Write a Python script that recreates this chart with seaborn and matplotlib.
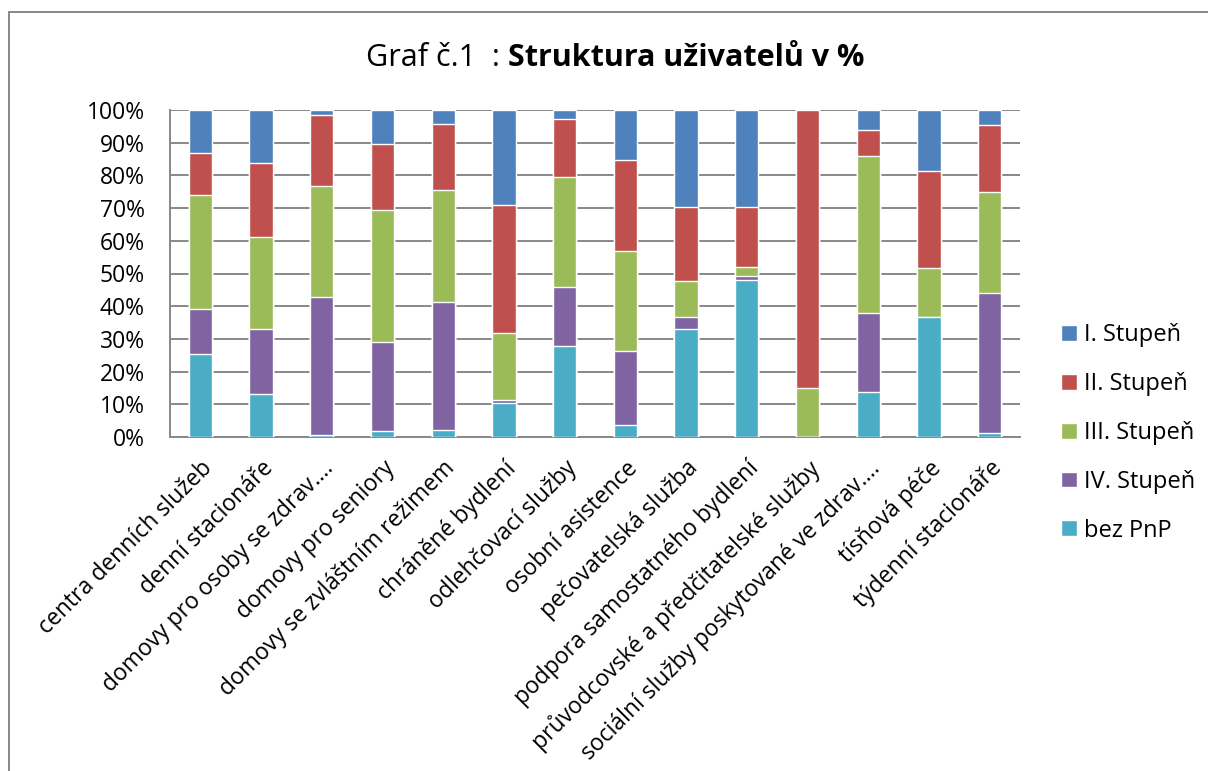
import matplotlib
matplotlib.use("Agg")
import matplotlib.pyplot as plt
import seaborn as sns
import numpy as np
import pandas as pd
from matplotlib.patches import Rectangle
from matplotlib.ticker import FixedLocator

categories = [
    "centra denních služeb",
    "denní stacionáře",
    "domovy pro osoby se zdrav.…",
    "domovy pro seniory",
    "domovy se zvláštním režimem",
    "chráněné bydlení",
    "odlehčovací služby",
    "osobní asistence",
    "pečovatelská služba",
    "podpora samostatného bydlení",
    "průvodcovské a předčitatelské služby",
    "sociální služby poskytované ve zdrav.…",
    "tísňová péče",
    "týdenní stacionáře",
]

bez_pnp   = [25.5, 13.0,  0.5,  1.9,  2.1, 10.4, 27.9,  3.6, 33.1, 47.9,  0.0, 13.9, 36.8,  1.2]
stupen_iv = [13.6, 20.1, 42.4, 27.0, 39.1,  0.9, 17.9, 22.6,  3.7,  1.3,  0.0, 24.0,  0.0, 42.8]
stupen_iii= [35.0, 28.0, 33.8, 40.5, 34.4, 20.4, 33.8, 30.6, 10.9,  2.8, 14.9, 48.0, 14.9, 30.9]
stupen_ii = [12.9, 22.6, 21.9, 20.3, 20.0, 39.3, 17.6, 27.8, 22.6, 18.3, 85.1,  8.1, 29.6, 20.5]
stupen_i  = [13.0, 16.3,  1.4, 10.3,  4.4, 29.0,  2.8, 15.4, 29.7, 29.7,  0.0,  6.0, 18.7,  4.6]

series_names = ["I. Stupeň", "II. Stupeň", "III. Stupeň", "IV. Stupeň", "bez PnP"]
colors = {"I. Stupeň": "#4F81BD", "II. Stupeň": "#C0504D", "III. Stupeň": "#9BBB59",
          "IV. Stupeň": "#8064A2", "bez PnP": "#4BACC6"}

sns.set_style("white")
plt.rcParams["font.family"] = ["Open Sans", "DejaVu Sans"]
plt.rcParams["text.color"] = "black"
plt.rcParams["xtick.color"] = "black"
plt.rcParams["ytick.color"] = "black"
plt.rcParams["xtick.labelcolor"] = "black"
plt.rcParams["ytick.labelcolor"] = "black"

fig = plt.figure(figsize=(12.08, 7.71), dpi=100)
ax = fig.add_axes([170/1208, 1 - 437/771, 850/1208, 327/771])

# stacking order bottom -> top
stack = [("bez PnP", bez_pnp), ("IV. Stupeň", stupen_iv), ("III. Stupeň", stupen_iii),
         ("II. Stupeň", stupen_ii), ("I. Stupeň", stupen_i)]
cum = np.zeros(len(categories))
cums = []
for name, vals in stack:
    cum = cum + np.array(vals)
    cums.append((name, cum.copy()))

# draw from top cumulative to bottom so lower layers overlay
for name, c in reversed(cums):
    df = pd.DataFrame({"cat": categories, "val": c})
    sns.barplot(data=df, x="cat", y="val", color=colors[name], width=0.385,
                saturation=1, ax=ax, label=name, zorder=3)

handles, labels = ax.get_legend_handles_labels()
hmap = dict(zip(labels, handles))
if ax.get_legend() is not None:
    ax.get_legend().remove()

ax.set_xlim(-0.5, len(categories) - 0.5)
ax.set_ylim(0, 100)
ax.set_yticks(np.arange(0, 101, 10))
ax.set_yticklabels([f"{v}%" for v in range(0, 101, 10)], fontsize=16.5)
ax.set_xlabel("")
ax.set_ylabel("")
ax.set_xticks(range(len(categories)))
ax.set_xticklabels(categories, rotation=45, ha="right", rotation_mode="anchor", fontsize=16.5)
ax.xaxis.set_minor_locator(FixedLocator(np.arange(-0.5, len(categories), 1.0)))
ax.tick_params(axis="x", which="major", length=0, pad=14)
ax.tick_params(axis="x", which="minor", length=7, width=1.3, color="#888888", direction="out")
ax.tick_params(axis="y", which="major", length=7, width=1.3, color="#888888", direction="out", pad=11)

ax.grid(axis="y", color="#888888", linewidth=1.4, zorder=0)
ax.set_axisbelow(True)
for s in ["top", "right"]:
    ax.spines[s].set_visible(False)
for s in ["left", "bottom"]:
    ax.spines[s].set_color("#888888")
    ax.spines[s].set_linewidth(1.4)

# legend
leg = fig.legend([hmap[n] for n in series_names], series_names,
                 loc="center left", bbox_to_anchor=(1040/1208, 1 - 433/771),
                 frameon=False, fontsize=17, handlelength=0.65, handleheight=0.65,
                 handletextpad=0.3, labelspacing=1.05)
for t in leg.get_texts():
    t.set_color("black")

# title
fig.text(508/1208, 1 - 58/771, "Graf č.1  : ", ha="right", va="center", fontsize=22)
fig.text(508/1208, 1 - 58/771, "Struktura uživatelů v %", ha="left", va="center",
         fontsize=22, fontweight="bold")

# outer frame
fig.patches.append(Rectangle((9/1208, -0.05), 1.2, 1 - 12/771 + 0.05,
                             transform=fig.transFigure, fill=False,
                             edgecolor="#888888", linewidth=1.4))

fig.savefig("out.png", dpi=100)
